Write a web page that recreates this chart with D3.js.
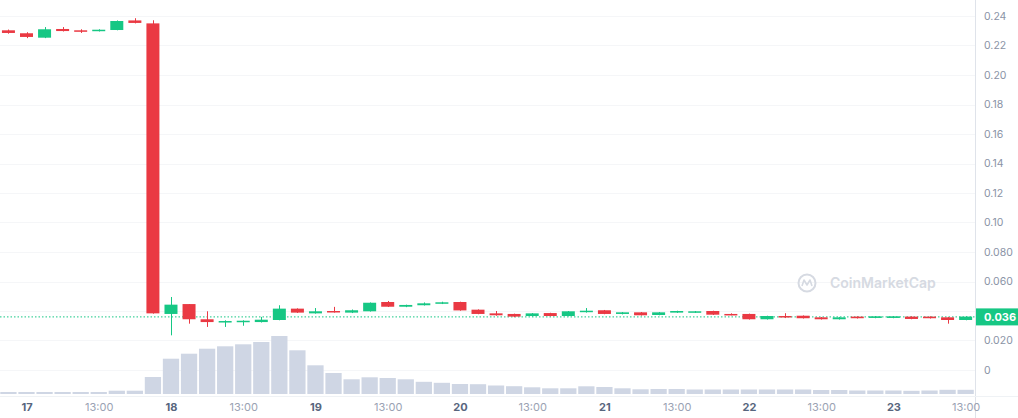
<!DOCTYPE html>
<html><head><meta charset="utf-8">
<script src="https://cdn.jsdelivr.net/npm/d3@7"></script>
<style>
body{margin:0;background:#fff;}
svg{display:block;font-family:Inter,"Noto Sans",sans-serif;}
</style>
</head><body>
<svg id="chart" width="1018" height="418"></svg>
<script>
// ---- data (3-hour candles) ----
const firstCandle = "2022-05-16T22:00:00Z";
const intervalHours = 3;
const openVals  = [0.2303,0.2283,0.2253,0.2312,0.2303,0.2298,0.2305,0.2370,0.2350,0.0380,0.0447,0.0344,0.0328,0.0326,0.0325,0.0339,0.0416,0.0384,0.0400,0.0389,0.0398,0.0461,0.0429,0.0439,0.0449,0.0461,0.0409,0.0384,0.0380,0.0366,0.0386,0.0366,0.0393,0.0405,0.0380,0.0391,0.0373,0.0389,0.0389,0.0400,0.0380,0.0380,0.0344,0.0366,0.0368,0.0357,0.0344,0.0362,0.0353,0.0353,0.0362,0.0362,0.0357,0.0339];
const highVals  = [0.2308,0.2290,0.2325,0.2325,0.2310,0.2310,0.2370,0.2385,0.2371,0.0495,0.0447,0.0398,0.0337,0.0337,0.0360,0.0439,0.0418,0.0420,0.0428,0.0410,0.0458,0.0468,0.0443,0.0458,0.0463,0.0463,0.0411,0.0400,0.0382,0.0386,0.0388,0.0400,0.0420,0.0407,0.0393,0.0393,0.0393,0.0402,0.0400,0.0402,0.0384,0.0382,0.0368,0.0385,0.0370,0.0359,0.0360,0.0364,0.0366,0.0366,0.0364,0.0364,0.0359,0.0364];
const lowVals   = [0.2280,0.2250,0.2250,0.2295,0.2285,0.2295,0.2303,0.2350,0.0382,0.0235,0.0314,0.0292,0.0292,0.0300,0.0322,0.0337,0.0387,0.0382,0.0389,0.0386,0.0396,0.0427,0.0426,0.0437,0.0447,0.0402,0.0378,0.0368,0.0358,0.0363,0.0364,0.0364,0.0389,0.0378,0.0377,0.0369,0.0371,0.0387,0.0387,0.0373,0.0371,0.0342,0.0342,0.0352,0.0349,0.0342,0.0342,0.0349,0.0351,0.0351,0.0344,0.0349,0.0314,0.0337];
const closeVals = [0.2285,0.2258,0.2310,0.2298,0.2294,0.2307,0.2366,0.2353,0.0384,0.0443,0.0344,0.0325,0.0332,0.0334,0.0341,0.0416,0.0389,0.0398,0.0391,0.0405,0.0456,0.0429,0.0441,0.0452,0.0459,0.0404,0.0380,0.0371,0.0362,0.0384,0.0366,0.0398,0.0402,0.0380,0.0391,0.0371,0.0391,0.0400,0.0398,0.0375,0.0373,0.0344,0.0366,0.0364,0.0351,0.0344,0.0357,0.0351,0.0364,0.0364,0.0346,0.0351,0.0339,0.0362];
const volumeVals = [200,200,200,200,200,200,330,330,1700,3530,4030,4530,4770,4970,5200,5800,4370,2870,2100,1470,1670,1600,1470,1220,1120,1000,980,850,780,670,570,570,770,700,570,470,500,500,450,450,450,450,450,450,450,400,400,350,350,350,320,350,420,420];
const gridTicks = [0,0.02,0.04,0.06,0.08,0.10,0.12,0.14,0.16,0.18,0.20,0.22,0.24];
// 0.040 label sits under the current-price badge in the reference, so it is not shown
const priceTicks = [0,0.02,0.06,0.08,0.10,0.12,0.14,0.16,0.18,0.20,0.22,0.24];
const priceTickLabels = ["0","0.020","0.060","0.080","0.10","0.12","0.14","0.16","0.18","0.20","0.22","0.24"];
const dayTicks = ["2022-05-17T01:00:00Z","2022-05-18T01:00:00Z","2022-05-19T01:00:00Z","2022-05-20T01:00:00Z","2022-05-21T01:00:00Z","2022-05-22T01:00:00Z","2022-05-23T01:00:00Z"];
const dayTickLabels = ["17","18","19","20","21","22","23"];
const hourTicks = ["2022-05-17T13:00:00Z","2022-05-18T13:00:00Z","2022-05-19T13:00:00Z","2022-05-20T13:00:00Z","2022-05-21T13:00:00Z","2022-05-22T13:00:00Z","2022-05-23T13:00:00Z"];
const hourTickLabel = "13:00";
const currentPrice = 0.036;
const currentPriceLabel = "0.036";
const watermark = "CoinMarketCap";

// ---- build ----
const t0 = new Date(firstCandle);
const candles = openVals.map((o,i)=>({
  t: d3.utcHour.offset(t0, i*intervalHours),
  o, h: highVals[i], l: lowVals[i], c: closeVals[i], v: volumeVals[i]
}));

const W = 1018, H = 418;
const plotRight = 975;
const svg = d3.select("#chart");

const x = d3.scaleUtc()
  .domain([new Date(dayTicks[0]), new Date(dayTicks[6])])
  .range([26.5, 893.4]);
const y = d3.scaleLinear().domain([0, 0.24]).range([370, 16]);
const yVol = d3.scaleLinear().domain([0, 5800]).range([394, 336]);

const step = x(d3.utcHour.offset(t0, intervalHours)) - x(t0);
const bodyW = 13;
const volW = step - 1.8;

const GREEN = "#16c784", RED = "#ea3943";

svg.append("defs").append("clipPath").attr("id","plotclip")
  .append("rect").attr("x",0).attr("y",0).attr("width",plotRight).attr("height",396);

// gridlines
svg.append("g").selectAll("line").data(gridTicks).join("line")
  .attr("x1",0).attr("x2",plotRight)
  .attr("y1",d=>Math.round(y(d))+0.5).attr("y2",d=>Math.round(y(d))+0.5)
  .attr("stroke","#f5f6f8").attr("stroke-width",1);

// watermark
const wm = svg.append("g").attr("transform","translate(807,283)");
wm.append("circle").attr("r",8.5).attr("fill","none").attr("stroke","#d6dae2").attr("stroke-width",2);
wm.append("path").attr("d","M-5,3 L-3,-3 L0,2 L3,-3 L5,3").attr("fill","none").attr("stroke","#d6dae2").attr("stroke-width",1.6).attr("stroke-linejoin","round");
wm.append("text").attr("x",23).attr("y",5).attr("font-size",14).attr("font-weight",600)
  .attr("fill","#d6dae2").text(watermark);

const plot = svg.append("g").attr("clip-path","url(#plotclip)");

// volume bars
plot.append("g").selectAll("rect").data(candles).join("rect")
  .attr("x",d=>x(d.t)-volW/2).attr("width",volW)
  .attr("y",d=>yVol(d.v)).attr("height",d=>yVol(0)-yVol(d.v))
  .attr("fill","#cfd6e4");

// current price dotted line
plot.append("line").attr("x1",0).attr("x2",plotRight)
  .attr("y1",y(currentPrice)).attr("y2",y(currentPrice))
  .attr("stroke",GREEN).attr("stroke-width",1).attr("stroke-dasharray","1.5,2");

// candles
const cg = plot.append("g").selectAll("g").data(candles).join("g");
cg.append("line")
  .attr("x1",d=>Math.round(x(d.t))+0.5).attr("x2",d=>Math.round(x(d.t))+0.5)
  .attr("y1",d=>y(d.h)).attr("y2",d=>y(d.l))
  .attr("stroke",d=>d.c>=d.o?GREEN:RED).attr("stroke-width",1);
cg.append("rect")
  .attr("x",d=>x(d.t)-bodyW/2).attr("width",bodyW)
  .attr("y",d=>y(Math.max(d.o,d.c)))
  .attr("height",d=>Math.max(1.5, Math.abs(y(d.o)-y(d.c))))
  .attr("fill",d=>d.c>=d.o?GREEN:RED);

// axis frame lines
svg.append("line").attr("x1",plotRight+0.5).attr("x2",plotRight+0.5).attr("y1",0).attr("y2",H)
  .attr("stroke","#dfe3ea");
svg.append("line").attr("x1",0).attr("x2",W).attr("y1",396.5).attr("y2",396.5)
  .attr("stroke","#eff2f5");

// right price axis
const yAxis = d3.axisRight(y).tickValues(priceTicks)
  .tickFormat((d,i)=>priceTickLabels[i]).tickSize(0).tickPadding(9);
const ya = svg.append("g").attr("transform",`translate(${plotRight},0)`).call(yAxis);
ya.select(".domain").remove();
ya.selectAll("text").attr("font-size",10.5).attr("fill","#8a93a6").attr("font-family","Inter, sans-serif");

// current price label
const pl = svg.append("g");
pl.append("rect").attr("x",plotRight+1).attr("y",y(currentPrice)-8.5).attr("width",W-plotRight-1).attr("height",17).attr("fill",GREEN);
pl.append("text").attr("x",984).attr("y",y(currentPrice)).attr("dy","0.35em")
  .attr("font-size",11).attr("font-weight",700).attr("fill","#fff").text(currentPriceLabel);

// bottom time axis
const allTicks = dayTicks.map((d,i)=>({t:new Date(d), label:dayTickLabels[i], day:true}))
  .concat(hourTicks.map(d=>({t:new Date(d), label:hourTickLabel, day:false})))
  .sort((a,b)=>a.t-b.t);
const xAxis = d3.axisBottom(x).tickValues(allTicks.map(d=>d.t))
  .tickFormat((d,i)=>allTicks[i].label).tickSize(0).tickPadding(6);
const xa = svg.append("g").attr("transform","translate(0,397)").call(xAxis);
xa.select(".domain").remove();
xa.selectAll("text").attr("font-size",11).attr("font-family","Inter, sans-serif")
  .attr("font-weight",(d,i)=>allTicks[i].day?700:400)
  .attr("fill",(d,i)=>allTicks[i].day?"#58667e":"#9aa2b3");
</script>
</body></html>
